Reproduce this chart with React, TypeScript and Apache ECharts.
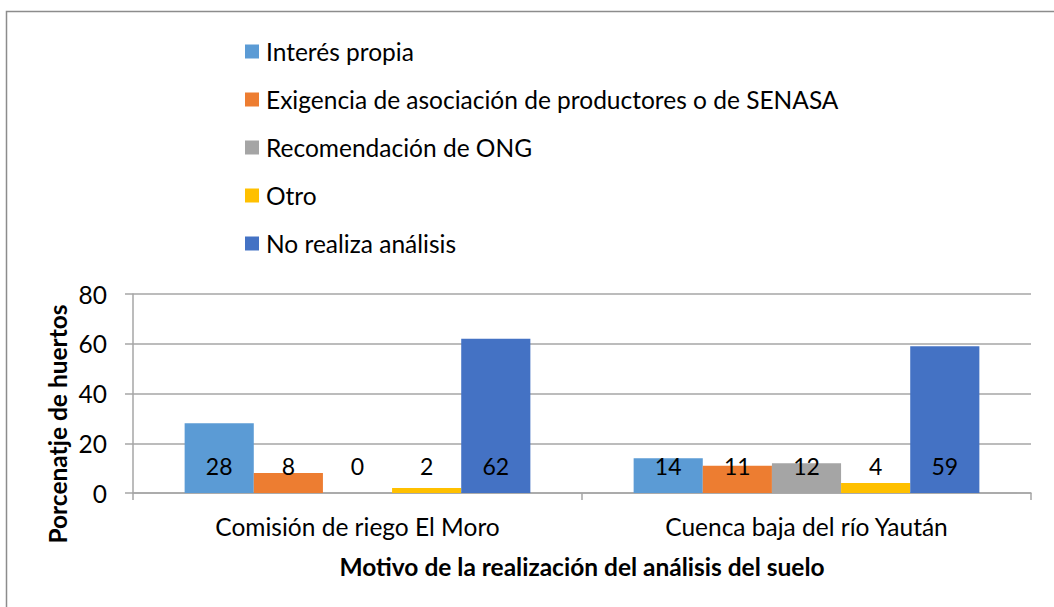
import React, { useEffect, useRef } from "react";
import * as echarts from "echarts";

const categories = ["Comisión de riego El Moro", "Cuenca baja del río Yaután"];
const seriesNames = [
  "Interés propia",
  "Exigencia de asociación de productores o de SENASA",
  "Recomendación de ONG",
  "Otro",
  "No realiza análisis",
];
const interesPropia = [28, 14];
const exigencia = [8, 11];
const recomendacionONG = [0, 12];
const otro = [2, 4];
const noRealiza = [62, 59];
const seriesValues = [interesPropia, exigencia, recomendacionONG, otro, noRealiza];
const colors = ["#5B9BD5", "#ED7D31", "#A5A5A5", "#FFC000", "#4472C4"];
const yTicks = [0, 20, 40, 60, 80];

const FONT = "Lato, 'Open Sans', sans-serif";
const FS = 24.5;

export default function App() {
  const ref = useRef<HTMLDivElement>(null);
  useEffect(() => {
    if (!ref.current) return;
    const chart = echarts.init(ref.current, null, { renderer: "svg" });
    chart.setOption({
      animation: false,
      backgroundColor: "#ffffff",
      textStyle: { fontFamily: FONT },
      graphic: [
        {
          type: "rect",
          shape: { x: 6.5, y: 11.5, width: 1200, height: 800 },
          style: { fill: "none", stroke: "#8C8C8C", lineWidth: 1.5 },
          silent: true,
        },
        {
          type: "text",
          x: 57,
          y: 424,
          rotation: Math.PI / 2,
          style: {
            text: "Porcenatje de huertos",
            fontFamily: FONT,
            fontSize: FS,
            fontWeight: "bold",
            fill: "#000000",
            textAlign: "center",
            textVerticalAlign: "middle",
          },
        },
      ],
      legend: {
        orient: "vertical",
        left: 240,
        top: 34,
        itemWidth: 14,
        itemHeight: 14,
        itemGap: 23,
        icon: "rect",
        data: seriesNames,
        textStyle: { fontFamily: FONT, fontSize: FS, color: "#000000", lineHeight: 24, padding: [0, 0, 0, 2] },
      },
      grid: { left: 133, right: 23, top: 294, bottom: 114, containLabel: false },
      xAxis: {
        type: "category",
        data: categories,
        name: "Motivo de la realización del análisis del suelo",
        nameLocation: "middle",
        nameGap: 61,
        nameTextStyle: { fontFamily: FONT, fontSize: FS, fontWeight: "bold", color: "#000000" },
        axisLine: { show: true, lineStyle: { color: "#A6A6A6", width: 1.5 } },
        axisTick: { show: true, length: 7, lineStyle: { color: "#A6A6A6", width: 1.5 } },
        axisLabel: { fontFamily: FONT, fontSize: FS, color: "#000000", margin: 21 },
      },
      yAxis: {
        type: "value",
        min: 0,
        max: 80,
        interval: 20,
        axisLine: { show: true, lineStyle: { color: "#A6A6A6", width: 1.5 } },
        axisTick: { show: true, length: 8, lineStyle: { color: "#A6A6A6", width: 1.5 } },
        splitLine: { show: true, lineStyle: { color: "#A6A6A6", width: 1.5 } },
        axisLabel: {
          fontFamily: FONT,
          fontSize: FS,
          color: "#000000",
          margin: 26,
          formatter: (v: number) => (yTicks.includes(v) ? String(v) : ""),
        },
      },
      series: seriesNames.map((name, i) => ({
        name,
        type: "bar",
        data: seriesValues[i],
        barGap: "0%",
        barCategoryGap: "23%",
        itemStyle: { color: colors[i] },
        label: {
          show: true,
          position: "insideBottom",
          distance: 16,
          fontFamily: FONT,
          fontSize: 23,
          color: "#000000",
        },
      })),
    });
    return () => chart.dispose();
  }, []);
  return (
    <div
      ref={ref}
      style={{ position: "fixed", left: 0, top: 0, width: 1054, height: 607 }}
    />
  );
}
